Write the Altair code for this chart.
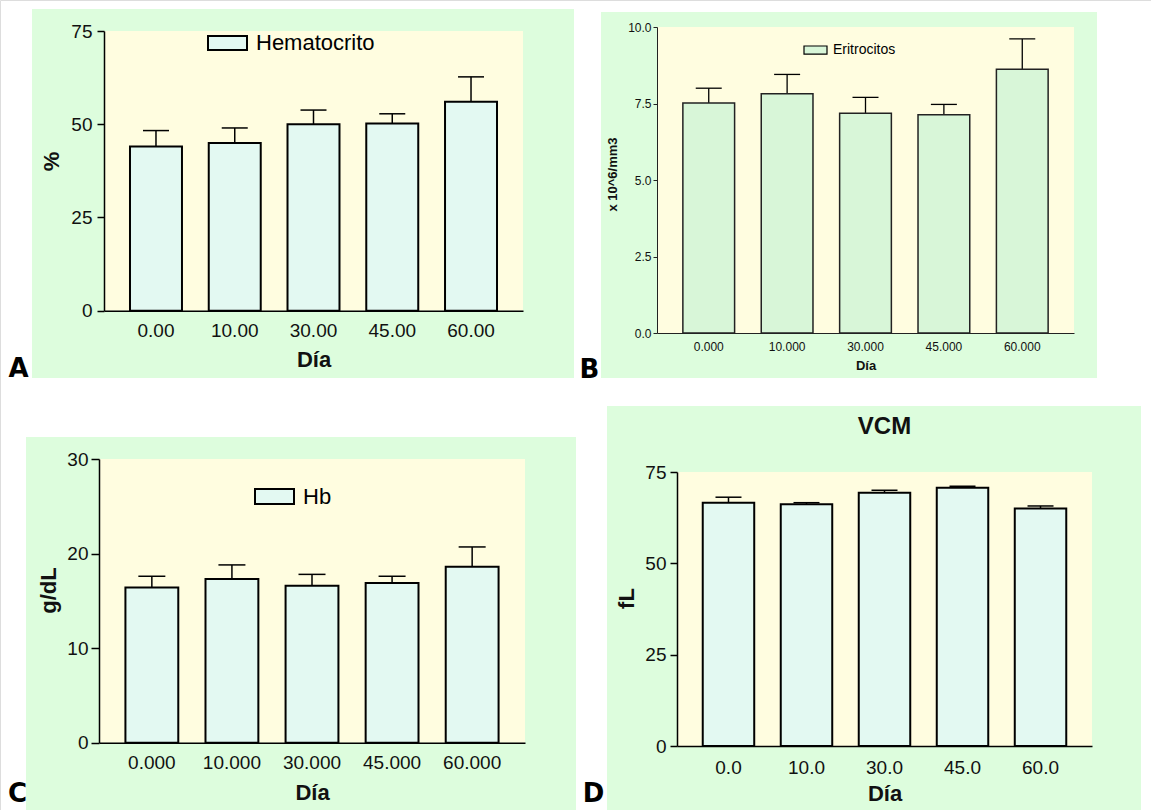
import altair as alt
import pandas as pd

# ---- data -------------------------------------------------------------
DIAS_A = ["0.00", "10.00", "30.00", "45.00", "60.00"]
DIAS_B = ["0.000", "10.000", "30.000", "45.000", "60.000"]
DIAS_C = ["0.000", "10.000", "30.000", "45.000", "60.000"]
DIAS_D = ["0.0", "10.0", "30.0", "45.0", "60.0"]

HEMATOCRITO = [44.0, 45.0, 50.0, 50.2, 56.0]
HEMATOCRITO_ERR = [4.3, 4.0, 3.8, 2.6, 6.7]
ERITROCITOS = [7.52, 7.82, 7.18, 7.13, 8.62]
ERITROCITOS_ERR = [0.48, 0.63, 0.52, 0.34, 0.99]
HB = [16.4, 17.3, 16.6, 16.9, 18.6]
HB_ERR = [1.2, 1.5, 1.2, 0.7, 2.1]
VCM = [66.6, 66.2, 69.3, 70.7, 65.0]
VCM_ERR = [1.5, 0.4, 0.7, 0.4, 0.7]

TICKS_A = [0, 25, 50, 75]
TICKS_B = [0, 2.5, 5, 7.5, 10]
TICKS_C = [0, 10, 20, 30]
TICKS_D = [0, 25, 50, 75]

LETRAS = ["A", "B", "C", "D"]
TITULO_D = "VCM"

# ---- style ------------------------------------------------------------
W, H = 1151, 810
GREEN = "#ddfddd"
CREAM = "#fffde0"
FILL_MINT = "#e3f9f2"
FILL_GREEN = "#d8f6d8"
FONT = "Liberation Sans"

one_row = pd.DataFrame({"k": [0]})


def box(x0, x1, y0, y1, color):
    return alt.Chart(one_row).mark_rect(fill=color, stroke=None).encode(
        x=alt.value(x0), x2=alt.value(x1), y=alt.value(y0), y2=alt.value(y1)
    )


def panel(p):
    df = pd.DataFrame({
        "dia": p["dias"],
        "valor": p["vals"],
        "sup": [v + e for v, e in zip(p["vals"], p["errs"])],
        "serie": p["serie"] or "",
    })
    x0, x1, yt, yb = p["plot"]
    xscale = alt.Scale(domain=p["dias"], range=[x0, x1], paddingInner=0.34, paddingOuter=0.33)
    yscale = alt.Scale(domain=[0, p["ymax"]], range=[yb, yt], nice=False, zero=True)
    xaxis = alt.Axis(
        orient="bottom", offset=yb - H, labelAngle=0, ticks=False, tickSize=0,
        domainColor=p["axis_color"], domainWidth=p["axis_w"], grid=False,
        labelFont=FONT, labelFontSize=p["lab_fs"], labelColor="#111",
        labelPadding=p["xlab_pad"],
        title="Día", titleFont=FONT, titleFontWeight="bold", titleFontSize=p["tit_fs"],
        titleColor="#111", titleX=(x0 + x1) / 2, titleY=p["xtitle_y"] - yb,
        titleBaseline="middle", titleAlign="center", zindex=1,
    )
    yaxis = alt.Axis(
        orient="left", offset=-x0, values=p["ticks"], format=p["fmt"],
        tickSize=p["tick"], tickWidth=p["axis_w"], tickColor=p["axis_color"],
        domainColor=p["axis_color"], domainWidth=p["axis_w"], grid=False,
        labelFont=FONT, labelFontSize=p["lab_fs"], labelColor="#111",
        labelPadding=p["ylab_pad"],
        title=p["ytitle"], titleFont=FONT, titleFontWeight="bold",
        titleFontSize=p["ytit_fs"], titleColor="#111", titleAngle=270,
        titleX=p["ytitle_x"] - x0, titleY=p["ytitle_y"],
        titleBaseline="middle", titleAlign="center", zindex=1,
    )
    x = alt.X("dia:N", sort=p["dias"], scale=xscale, axis=xaxis)
    y = alt.Y("valor:Q", scale=yscale, axis=yaxis)

    if p["serie"]:
        lg = p["legend"]
        color = alt.Color(
            "serie:N",
            scale=alt.Scale(domain=[p["serie"]], range=[p["fill"]]),
            legend=alt.Legend(
                orient="none", legendX=lg["x"], legendY=lg["y"], title=None, padding=0,
                symbolType=lg["path"], symbolSize=lg["size"],
                symbolStrokeColor="black", symbolStrokeWidth=lg["sw"],
                labelOffset=lg["off"], labelFont=FONT, labelFontSize=lg["fs"],
                labelColor="black",
            ),
        )
    else:
        color = alt.value(p["fill"])

    rule = alt.Chart().mark_rule(color="black", strokeWidth=p["err_w"]).encode(
        x=x, y=y, y2="sup:Q"
    )
    cap = alt.Chart().mark_tick(
        color="black", thickness=p["err_w"], size=p["cap"], opacity=1
    ).encode(x=x, y=alt.Y("sup:Q", scale=yscale, axis=yaxis))
    bars = alt.Chart().mark_bar(stroke=p["bar_stroke"], strokeWidth=p["bar_w"]).encode(
        x=x, y=y, color=color
    )
    return alt.layer(rule, cap, bars, data=df)


PANELS = [
    dict(dias=DIAS_A, vals=HEMATOCRITO, errs=HEMATOCRITO_ERR, serie="Hematocrito",
         plot=(104, 523, 31, 310.7), ymax=75, ticks=TICKS_A, fmt="d",
         green=(32, 574, 9, 378), fill=FILL_MINT, bar_stroke="black", bar_w=2,
         err_w=1.5, cap=26, axis_color="black", axis_w=1.5, tick=7,
         lab_fs=19, tit_fs=22, ytit_fs=22, xlab_pad=11, ylab_pad=5,
         ytitle="%", ytitle_x=51, ytitle_y=161, xtitle_y=359,
         legend=dict(x=207, y=22.5, path="M-1,-0.36H1V0.36H-1Z", size=1521, sw=2, off=8, fs=22)),
    dict(dias=DIAS_B, vals=ERITROCITOS, errs=ERITROCITOS_ERR, serie="Eritrocitos",
         plot=(657, 1074, 27, 333), ymax=10, ticks=TICKS_B, fmt=".1f",
         green=(601, 1097, 12, 378), fill=FILL_GREEN, bar_stroke="#222", bar_w=1.5,
         err_w=1.3, cap=26, axis_color="#222", axis_w=1, tick=4,
         lab_fs=12, tit_fs=13, ytit_fs=13, xlab_pad=8, ylab_pad=2,
         ytitle="x 10^6/mm3", ytitle_x=612, ytitle_y=174, xtitle_y=365,
         legend=dict(x=803, y=37.5, path="M-1,-0.35H1V0.35H-1Z", size=529, sw=1.2, off=5, fs=14)),
    dict(dias=DIAS_C, vals=HB, errs=HB_ERR, serie="Hb",
         plot=(99, 525, 459, 742.7), ymax=30, ticks=TICKS_C, fmt="d",
         green=(26, 576, 437, 810), fill=FILL_MINT, bar_stroke="black", bar_w=2,
         err_w=1.5, cap=27, axis_color="black", axis_w=1.5, tick=8,
         lab_fs=19, tit_fs=22, ytit_fs=22, xlab_pad=11, ylab_pad=3,
         ytitle="g/dL", ytitle_x=48, ytitle_y=590, xtitle_y=792,
         legend=dict(x=254, y=476, path="M-1,-0.385H1V0.385H-1Z", size=1521, sw=2, off=8, fs=22)),
    dict(dias=DIAS_D, vals=VCM, errs=VCM_ERR, serie=None,
         plot=(677, 1092, 472, 746), ymax=75, ticks=TICKS_D, fmt="d",
         green=(607, 1141, 406, 810), fill=FILL_MINT, bar_stroke="black", bar_w=2,
         err_w=1.5, cap=26, axis_color="black", axis_w=1.5, tick=7,
         lab_fs=19, tit_fs=22, ytit_fs=22, xlab_pad=12, ylab_pad=4,
         ytitle="fL", ytitle_x=626, ytitle_y=598, xtitle_y=793,
         legend=None),
]

layers = []
for p in PANELS:
    gx0, gx1, gy0, gy1 = p["green"]
    layers.append(box(gx0, gx1, gy0, gy1, GREEN))
for p in PANELS:
    x0, x1, yt, yb = p["plot"]
    layers.append(box(x0, x1, yt, yb, CREAM))
for p in PANELS:
    layers.append(panel(p))

# panel letters
letter_pos = [(18.5, 377), (589.5, 378), (17.5, 802), (593.5, 802)]
for letra, (lx, ly) in zip(LETRAS, letter_pos):
    layers.append(
        alt.Chart(pd.DataFrame({"t": [letra]})).mark_text(
            font="DejaVu Sans", fontWeight="bold", fontSize=26,
            align="center", baseline="alphabetic", color="black",
        ).encode(x=alt.value(lx), y=alt.value(ly), text="t:N")
    )

# title of panel D
layers.append(
    alt.Chart(pd.DataFrame({"t": [TITULO_D]})).mark_text(
        font=FONT, fontWeight="bold", fontSize=24, align="center",
        baseline="middle", color="#111",
    ).encode(x=alt.value(884.5), y=alt.value(427), text="t:N")
)

chart = (
    alt.layer(*layers)
    .resolve_scale(x="independent", y="independent", color="independent")
    .resolve_axis(x="independent", y="independent")
    .resolve_legend(color="independent")
    .properties(width=W, height=H, autosize=alt.AutoSizeParams(type="none"), padding=0)
    .configure_view(stroke=None)
    .configure(background="white")
)

chart.save("out.html", embed_options={"renderer": "svg", "actions": False})
